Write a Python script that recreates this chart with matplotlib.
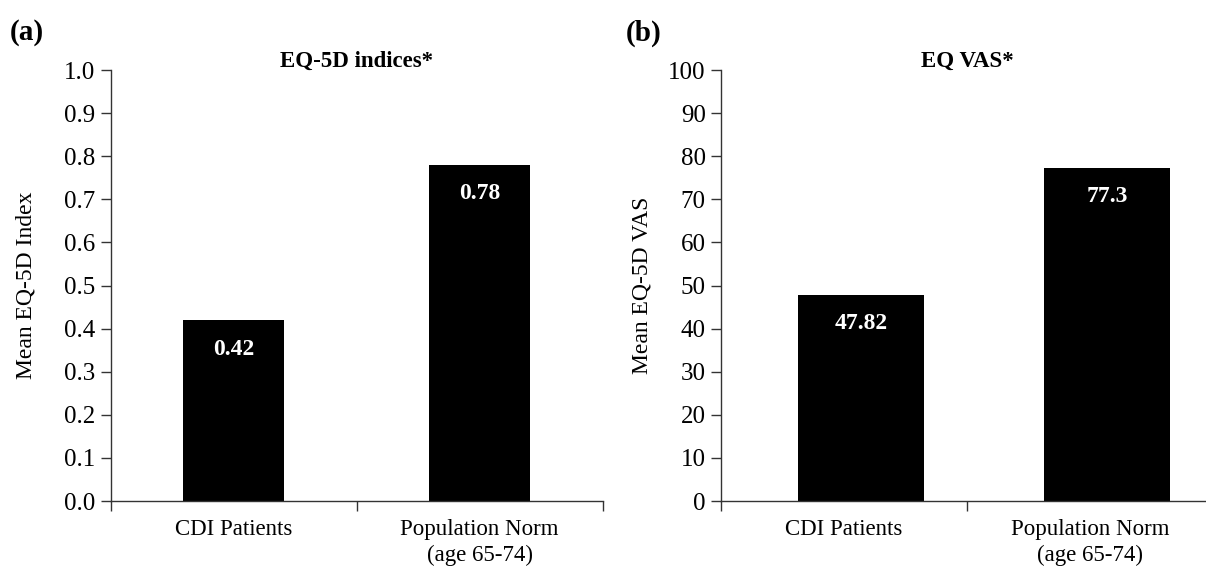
import matplotlib
matplotlib.use("Agg")
import matplotlib.pyplot as plt
import numpy as np

categories = ["CDI Patients", "Population Norm\n(age 65-74)"]
index_values = [0.42, 0.78]
vas_values = [47.82, 77.3]
index_labels = ["0.42", "0.78"]
vas_labels = ["47.82", "77.3"]
index_ticks = [0.0, 0.1, 0.2, 0.3, 0.4, 0.5, 0.6, 0.7, 0.8, 0.9, 1.0]
vas_ticks = [0, 10, 20, 30, 40, 50, 60, 70, 80, 90, 100]

plt.rcParams['font.family'] = ['Liberation Serif', 'DejaVu Serif']

fig = plt.figure(figsize=(12.06, 5.67), dpi=100)
axL = fig.add_axes([0.0918, 0.1164, 0.408, 0.760])
axR = fig.add_axes([0.5978, 0.1164, 0.408, 0.760])

def style(ax, values, labels, ticks, fmt, ylabel, title, width, offset, labx):
    x = np.arange(len(categories)) + offset
    bars = ax.bar(x, values, width=width, color='black', edgecolor='black', linewidth=0)
    ax.set_xlim(-0.5, 1.5)
    ax.set_ylim(ticks[0], ticks[-1])
    ax.set_yticks(ticks)
    ax.set_yticklabels([fmt.format(t) for t in ticks], fontsize=18)
    ax.set_xticks([-0.5, 0.5, 1.5])
    ax.set_xticklabels([])
    ax.set_xticks([0, 1], minor=True)
    ax.set_xticklabels(categories, minor=True, fontsize=16.5, linespacing=1.3)
    ax.tick_params(axis='x', which='minor', length=0, pad=13)
    ax.tick_params(axis='x', which='major', length=7, width=1, color='#333333', direction='out')
    ax.tick_params(axis='y', length=7, width=1, color='#333333', direction='out', pad=4)
    for s in ['top', 'right']:
        ax.spines[s].set_visible(False)
    for s in ['left', 'bottom']:
        ax.spines[s].set_linewidth(1.0)
        ax.spines[s].set_color('#333333')
    ax.set_ylabel(ylabel, fontsize=17)
    ax.yaxis.set_label_coords(labx, 0.5)
    ax.set_title(title, fontsize=16.5, fontweight='bold', pad=2, y=1.0)
    for b, lab in zip(bars, labels):
        ax.annotate(lab, (b.get_x() + b.get_width() / 2, b.get_height()),
                    xytext=(0, -29), textcoords='offset pixels',
                    ha='center', va='center', color='white',
                    fontsize=17, fontweight='bold')

style(axL, index_values, index_labels, index_ticks, "{:.1f}", "Mean EQ-5D Index",
      "EQ-5D indices*", 0.41, 0.0, -0.150)
style(axR, vas_values, vas_labels, vas_ticks, "{:d}", "Mean EQ-5D VAS",
      "EQ VAS*", 0.51, 0.07, -0.140)

fig.text(0.008, 0.942, "(a)", fontsize=21, fontweight='bold', ha='left', va='center')
fig.text(0.519, 0.942, "(b)", fontsize=21, fontweight='bold', ha='left', va='center')

fig.savefig("out.png", dpi=100)
